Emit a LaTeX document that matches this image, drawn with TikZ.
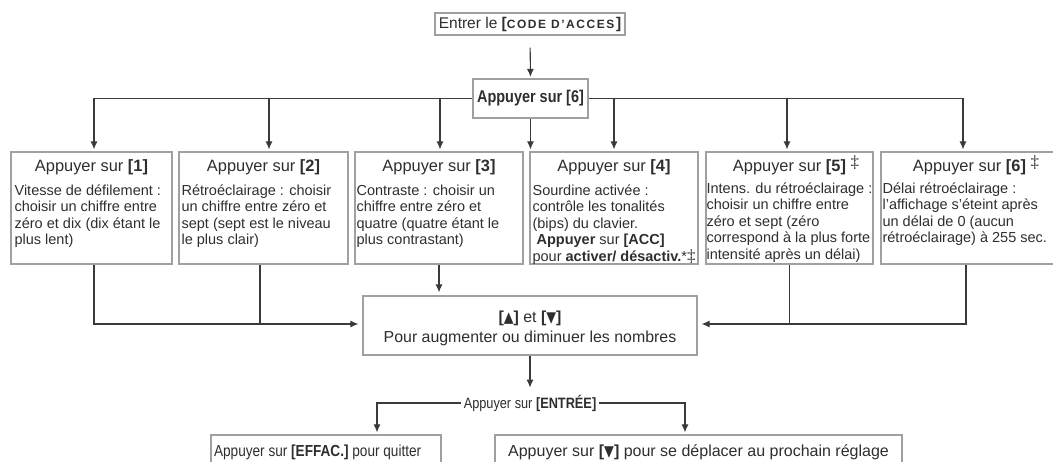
\documentclass[tikz,border=0pt]{standalone}
\usepackage{fontspec}
\setmainfont{Liberation Sans}
\newfontfamily\narrowfont[FakeStretch=0.85]{Liberation Sans}
\newfontfamily\capsfont[LetterSpace=13]{Liberation Sans Bold}
\newfontfamily\serifdag{Liberation Serif}
\newfontfamily\shapefont{DejaVu Sans}
\usetikzlibrary{calc}
\usetikzlibrary{arrows.meta}

\definecolor{ink}{HTML}{2E2E2E}
\definecolor{frame}{HTML}{A0A0A0}
\definecolor{wire}{HTML}{3A3A3A}
\newcommand{\dg}{{\serifdag\fontsize{17}{17}\selectfont ‡}}
\newcommand{\up}{{\shapefont\scalebox{0.8}[0.95]{▲}}}
\newcommand{\down}{{\shapefont\scalebox{0.8}[0.95]{▼}}}

\begin{document}
\begin{tikzpicture}[x=1pt,y=-1pt,
        every node/.append style={text=ink},
        wire/.style={draw=wire, line width=1.1pt},
        tip/.style={wire, -{Latex[length=8pt,width=7pt]}},
        frm/.style={draw=frame, line width=1.2pt, inner sep=0pt},
        optbox/.style={frm, minimum height=112pt},
        opttitle/.style={anchor=base, inner sep=0pt, font=\fontsize{16.4}{18}\selectfont},
        opttext/.style={anchor=base west, inner sep=0pt, align=left, font=\fontsize{14.5}{16.5}\selectfont}]
        \clip (0,0) rectangle (1053,462);

        % entree du code et touche 6
        \node[frm, minimum width=190pt, minimum height=22pt, font=\fontsize{15.5}{17}\selectfont] (code) at (530,24)
            {Entrer le \textbf{[}{\capsfont\fontsize{12}{12}\selectfont CODE D’ACCES}\textbf{]}};
        \node[frm, minimum width=115pt, minimum height=39pt, font=\narrowfont\bfseries\fontsize{17}{19}\selectfont] (six) at (530.5,98.5) {Appuyer sur [6]};

        % les six options
        \node[optbox, minimum width=161pt] (k1) at (91.5,208) {};
        \node[optbox, minimum width=169pt] (k2) at (263.5,208) {};
        \node[optbox, minimum width=168pt] (k3) at (439,208) {};
        \node[optbox, minimum width=168pt] (k4) at (614,208) {};
        \node[optbox, minimum width=167pt] (k5) at (789.5,208) {};
        \node[optbox, minimum width=177pt] (k6) at (969.5,208) {};

        \node[opttitle] (k1t) at ([yshift=-20pt]k1.north) {Appuyer sur \textbf{[1]}};
        \node[opttitle] (k2t) at ([yshift=-20pt]k2.north) {Appuyer sur \textbf{[2]}};
        \node[opttitle] (k3t) at ([yshift=-20pt]k3.north) {Appuyer sur \textbf{[3]}};
        \node[opttitle] (k4t) at ([yshift=-20pt]k4.north) {Appuyer sur \textbf{[4]}};
        \node[opttitle] (k5t) at ([yshift=-20pt]k5.north) {Appuyer sur \textbf{[5]}\rlap{\ \raisebox{4pt}{\dg}}};
        \node[opttitle] (k6t) at ([yshift=-20pt]k6.north) {Appuyer sur \textbf{[6]}\rlap{\ \raisebox{4pt}{\dg}}};

        % base = derniere ligne
        \node[opttext] (k1b) at ([xshift=4pt,yshift=-93.5pt]k1.north west)
            {Vitesse de défilement :\\choisir un chiffre entre\\zéro et dix (dix étant le\\plus lent)};
        \node[opttext] (k2b) at ([xshift=3pt,yshift=-93.5pt]k2.north west)
            {Rétroéclairage : choisir\\un chiffre entre zéro et\\sept (sept est le niveau\\le plus clair)};
        \node[opttext] (k3b) at ([xshift=2pt,yshift=-93.5pt]k3.north west)
            {Contraste : choisir un\\chiffre entre zéro et\\quatre (quatre étant le\\plus contrastant)};
        \node[opttext] (k4b) at ([xshift=3pt,yshift=-110pt]k4.north west)
            {Sourdine activée :\\contrôle les tonalités\\(bips) du clavier.\\\hspace{4pt}\textbf{Appuyer} sur \textbf{[ACC]}\\pour \textbf{activer/ désactiv.}*\dg};
        \node[opttext] (k5b) at ([xshift=1pt,yshift=-108pt]k5.north west)
            {Intens. du rétroéclairage :\\choisir un chiffre entre\\zéro et sept (zéro\\correspond à la plus forte\\intensité après un délai)};
        \node[opttext] (k6b) at ([xshift=2pt,yshift=-91.5pt]k6.north west)
            {Délai rétroéclairage :\\l’affichage s’éteint après\\un délai de 0 (aucun\\rétroéclairage) à 255 sec.};

        % fleches haut / bas
        \node[frm, minimum width=334pt, minimum height=59pt] (adj) at (530,325.5) {};
        \node[anchor=base, inner sep=0pt, align=center, font=\fontsize{15.9}{20}\selectfont] (adjt) at (530,343)
            {\textbf{[}\up\textbf{]} et \textbf{[}\down\textbf{]}\\Pour augmenter ou diminuer les nombres};

        \node[inner sep=3pt, font=\narrowfont\fontsize{15}{17}\selectfont] (enter) at (530,403) {Appuyer sur \textbf{[ENTRÉE]}};

        \node[frm, minimum width=230pt, minimum height=50pt] (quit) at (326,460) {};
        \node[anchor=base west, inner sep=0pt, font=\narrowfont\fontsize{16}{18}\selectfont] (quitt) at ([xshift=3.5pt,yshift=-22pt]quit.north west)
            {Appuyer sur \textbf{[EFFAC.]} pour quitter};
        \node[frm, minimum width=407pt, minimum height=50pt] (next) at (698.5,460) {};
        \node[anchor=base, inner sep=0pt, font=\fontsize{16}{18}\selectfont] (nextt) at ([yshift=-22pt]next.north)
            {Appuyer sur \textbf{[}\down\textbf{]} pour se déplacer au prochain réglage};

        % liaisons
        \draw[tip, shorten <=12pt, shorten >=1.5pt] (code.south) -- (six.north);
        \draw[wire] ([xshift=2.5pt]k1.north |- six.west) -- (six.west);
        \draw[wire] (six.east) -- ([xshift=-6.5pt]k6.north |- six.east);
        \foreach \k/\s in {k1/2.5,k2/5.5,k3/1,k4/0,k5/-2.5,k6/-6.5}
            \draw[tip] ([xshift=\s pt]\k.north |- six.west) -- ([xshift=\s pt,yshift=2pt]\k.north);
        \draw[tip, shorten >=2pt] (six.south) -- (six.south |- k4.north);

        \draw[tip] ([xshift=2.5pt]k1.south) |- ([xshift=-4pt,yshift=1.5pt]adj.west);
        \draw[wire] ([xshift=-3.5pt]k2.south) -- ([xshift=-3.5pt,yshift=1.5pt]k2.south |- adj.west);
        \draw[tip, shorten >=3pt] (k3.south) -- (k3.south |- adj.north);
        \draw[tip] ([xshift=-3.5pt]k6.south) |- ([xshift=4pt,yshift=1.5pt]adj.east);
        \draw[wire] (k5.south) -- ([yshift=1.5pt]k5.south |- adj.east);

        \draw[tip, shorten >=4pt] (adj.south) -- (enter.north);
        \draw[tip] (enter.west) -| ([xshift=51pt,yshift=2pt]quit.north);
        \draw[tip] (enter.east) -| ([xshift=-13.5pt,yshift=2pt]next.north);
    \end{tikzpicture}
\end{document}
